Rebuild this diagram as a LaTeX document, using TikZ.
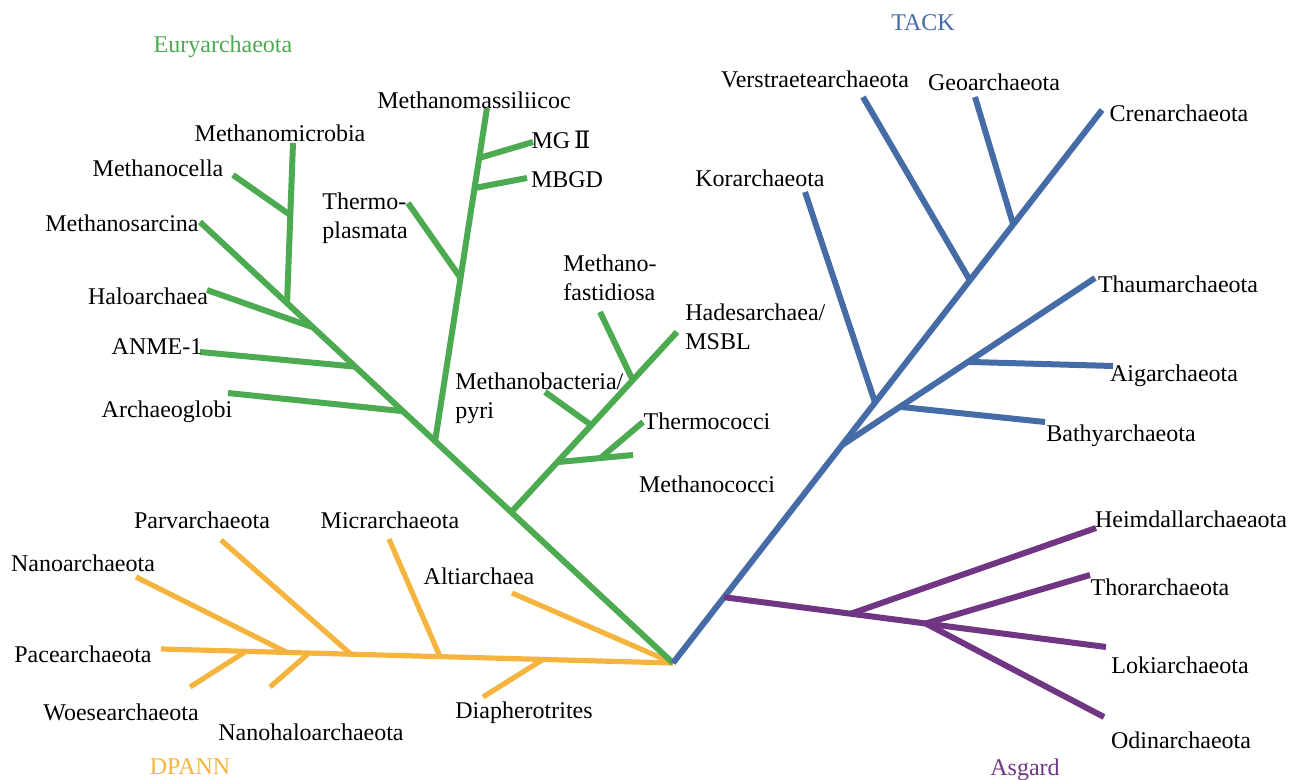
\documentclass[tikz,border=0pt]{standalone}
\usepackage{fontspec}
\setmainfont{Liberation Serif}
\newfontfamily\romfont{DejaVu Serif}
\usetikzlibrary{positioning,calc}
\definecolor{eurygreen}{RGB}{76,170,80}
\definecolor{tackblue}{RGB}{70,108,168}
\definecolor{dpannorange}{RGB}{245,180,62}
\definecolor{asgpurple}{RGB}{112,54,132}
\tikzset{
  txt/.style={font=\fontsize{12}{14.5}\selectfont,inner sep=0pt},
  taxon/.style={txt,text=black},
  taxonl/.style={taxon,anchor=west,align=left},
  br/.style={line width=3pt,line join=round},
  eury/.style={br,draw=eurygreen},
  tack/.style={br,draw=tackblue},
  dpann/.style={br,line width=2.6pt,draw=dpannorange},
  asg/.style={br,draw=asgpurple},
}
\begin{document}
\begin{tikzpicture}[x=0.5pt,y=-0.5pt]
\useasboundingbox (0,0) rectangle (1289,780);
\coordinate (root) at (673,663);

% DPANN
\coordinate (pace) at (161,649);
\coordinate (nanot) at (136,577);
\coordinate (woeset) at (190,687);
\coordinate (halot) at (270,687);
\coordinate (parvt) at (221,540);
\coordinate (micrt) at (389,539);
\coordinate (diapht) at (483,697);
\coordinate (altit) at (512,593);
\coordinate (jnano) at ($(pace)!0.246!(root)$);
\coordinate (jwoese) at ($(pace)!0.166!(root)$);
\coordinate (jhalo) at ($(pace)!0.289!(root)$);
\coordinate (jparv) at ($(pace)!0.371!(root)$);
\coordinate (jmicr) at ($(pace)!0.545!(root)$);
\coordinate (jdiaph) at ($(pace)!0.746!(root)$);
\draw[dpann] (pace) -- (root);
\draw[dpann] (nanot) -- (jnano);
\draw[dpann] (woeset) -- (jwoese);
\draw[dpann] (halot) -- (jhalo);
\draw[dpann] (parvt) -- (jparv);
\draw[dpann] (micrt) -- (jmicr);
\draw[dpann] (diapht) -- (jdiaph);
\draw[dpann] (altit) -- (root);

% Euryarchaeota
\coordinate (sarcina) at (200,222);
\coordinate (jmicro) at ($(root)!0.816!(sarcina)$);
\coordinate (jhaloa) at ($(root)!0.761!(sarcina)$);
\coordinate (janme) at ($(root)!0.672!(sarcina)$);
\coordinate (jglobi) at ($(root)!0.571!(sarcina)$);
\coordinate (jmass) at ($(root)!0.503!(sarcina)$);
\coordinate (jsub) at ($(root)!0.342!(sarcina)$);
\coordinate (microt) at (293,143);
\coordinate (cellat) at (233,175);
\coordinate (haloat) at (207,290);
\coordinate (anmet) at (200,352);
\coordinate (globit) at (228,393);
\coordinate (masst) at (487,108);
\coordinate (plasmt) at (408,203);
\coordinate (mgt) at (533,142);
\coordinate (mbgdt) at (527,178);
\coordinate (hadest) at (677,332);
\coordinate (fastt) at (600,312);
\coordinate (bactt) at (545,392);
\coordinate (mcocct) at (633,455);
\coordinate (tcocct) at (643,422);
\coordinate (jcella) at ($(jmicro)!0.55!(microt)$);
\coordinate (jplasm) at ($(jmass)!0.49!(masst)$);
\coordinate (jmg) at ($(jmass)!0.85!(masst)$);
\coordinate (jmbgd) at ($(jmass)!0.76!(masst)$);
\coordinate (jfast) at ($(jsub)!0.733!(hadest)$);
\coordinate (jbact) at ($(jsub)!0.483!(hadest)$);
\coordinate (jcocci) at ($(jsub)!0.278!(hadest)$);
\coordinate (jtcocc) at ($(jcocci)!0.57!(mcocct)$);
\draw[eury] (root) -- (sarcina);
\draw[eury] (jmicro) -- (microt);
\draw[eury] (cellat) -- (jcella);
\draw[eury] (haloat) -- (jhaloa);
\draw[eury] (anmet) -- (janme);
\draw[eury] (globit) -- (jglobi);
\draw[eury] (jmass) -- (masst);
\draw[eury] (plasmt) -- (jplasm);
\draw[eury] (jmg) -- (mgt);
\draw[eury] (jmbgd) -- (mbgdt);
\draw[eury] (jsub) -- (hadest);
\draw[eury] (fastt) -- (jfast);
\draw[eury] (bactt) -- (jbact);
\draw[eury] (jcocci) -- (mcocct);
\draw[eury] (tcocct) -- (jtcocc);

% TACK
\coordinate (crent) at (1102,110);
\coordinate (jasg) at ($(root)!0.119!(crent)$);
\coordinate (jthaum) at ($(root)!0.394!(crent)$);
\coordinate (jkor) at ($(root)!0.471!(crent)$);
\coordinate (jverst) at ($(root)!0.692!(crent)$);
\coordinate (jgeo) at ($(root)!0.793!(crent)$);
\coordinate (kort) at (805,192);
\coordinate (verstt) at (863,97);
\coordinate (geot) at (975,97);
\coordinate (thaumt) at (1095,278);
\coordinate (aigt) at (1113,366);
\coordinate (bathyt) at (1045,422);
\coordinate (jaig) at ($(jthaum)!0.498!(thaumt)$);
\coordinate (jbathy) at ($(jthaum)!0.229!(thaumt)$);
\draw[tack] (root) -- (crent);
\draw[tack] (kort) -- (jkor);
\draw[tack] (verstt) -- (jverst);
\draw[tack] (geot) -- (jgeo);
\draw[tack] (jthaum) -- (thaumt);
\draw[tack] (jaig) -- (aigt);
\draw[tack] (jbathy) -- (bathyt);

% Asgard
\coordinate (lokit) at (1106,647);
\coordinate (heimt) at (1096,528);
\coordinate (thort) at (1090,575);
\coordinate (odint) at (1104,717);
\coordinate (jheim) at ($(jasg)!0.332!(lokit)$);
\coordinate (jthor) at ($(jasg)!0.528!(lokit)$);
\draw[asg] (jasg) -- (lokit);
\draw[asg] (jheim) -- (heimt);
\draw[asg] (jthor) -- (thort);
\draw[asg] (jthor) -- (odint);

% group names
\node[txt,text=eurygreen] (euryname) at (223,47) {Euryarchaeota};
\node[txt,text=tackblue] (tackname) at (923,23) {TACK};
\node[txt,text=dpannorange] (dpannname) at (190,767) {DPANN};
\node[txt,text=asgpurple] (asgname) at (1025,770) {Asgard};

% taxa
\node[taxon] (lmicro) at (280,133) {Methanomicrobia};
\node[taxon] (lcella) at (158,168) {Methanocella};
\node[taxon] (lsarcina) at (122,223) {Methanosarcina};
\node[taxon] (lhaloa) at (148,296) {Haloarchaea};
\node[taxon] (lanme) at (157,347) {ANME-1};
\node[taxon] (lglobi) at (167,412) {Archaeoglobi};
\node[taxonl] (lplasm) at (322,218) {Thermo-\\plasmata};
\node[taxon] (lmass) at (474,100) {Methanomassiliicoc};
\node[taxon] (lmg) at (561,140) {MG\,{\romfont Ⅱ}};
\node[taxon] (lmbgd) at (567,180) {MBGD};
\node[taxonl] (lfast) at (563,278) {Methano-\\fastidiosa};
\node[taxonl] (lhades) at (685,327) {Hadesarchaea/\\MSBL};
\node[taxonl] (lbact) at (455,398) {Methanobacteria/\\pyri};
\node[taxon] (ltcocc) at (707,421) {Thermococci};
\node[taxon] (lmcocc) at (707,484) {Methanococci};

\node[taxon] (lverst) at (815,79) {Verstraetearchaeota};
\node[taxon] (lgeo) at (994,82) {Geoarchaeota};
\node[taxon] (lcren) at (1179,113) {Crenarchaeota};
\node[taxon] (lkor) at (760,178) {Korarchaeota};
\node[taxon] (lthaum) at (1178,284) {Thaumarchaeota};
\node[taxon] (laig) at (1174,376) {Aigarchaeota};
\node[taxon] (lbathy) at (1121,436) {Bathyarchaeota};

\node[taxon] (lheim) at (1191,519) {Heimdallarchaeaota};
\node[taxon] (lthor) at (1160,587) {Thorarchaeota};
\node[taxon] (lloki) at (1180,665) {Lokiarchaeota};
\node[taxon] (lodin) at (1181,740) {Odinarchaeota};

\node[taxon] (lparv) at (202,520) {Parvarchaeota};
\node[taxon] (lmicr) at (390,520) {Micrarchaeota};
\node[taxon] (lnano) at (83,563) {Nanoarchaeota};
\node[taxon] (lalti) at (479,576) {Altiarchaea};
\node[taxon] (lpace) at (83,654) {Pacearchaeota};
\node[taxon] (lwoese) at (121,712) {Woesearchaeota};
\node[taxon] (lhalo) at (311,732) {Nanohaloarchaeota};
\node[taxon] (ldiaph) at (524,713) {Diapherotrites};
\end{tikzpicture}
\end{document}
